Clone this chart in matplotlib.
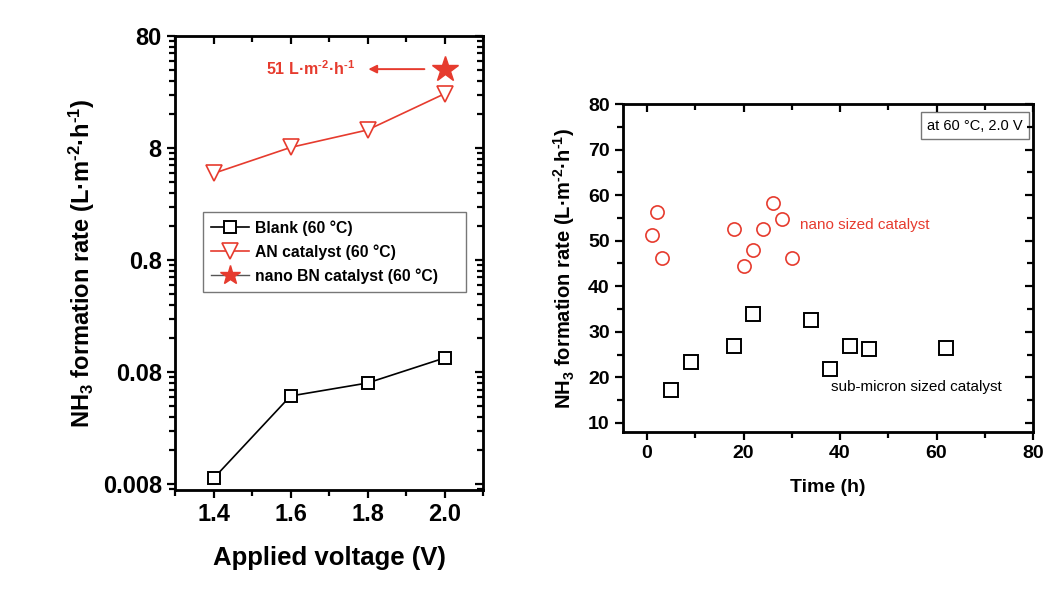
import matplotlib
matplotlib.use("Agg")
import matplotlib.pyplot as plt
from matplotlib import font_manager
from matplotlib.lines import Line2D
from matplotlib.ticker import FixedLocator, MultipleLocator, NullFormatter

names = {f.name for f in font_manager.fontManager.ttflist}
FAM = "Liberation Sans Narrow" if "Liberation Sans Narrow" in names else "Liberation Sans"
plt.rcParams['font.family'] = [FAM, 'DejaVu Sans']
plt.rcParams['font.weight'] = 'bold'
plt.rcParams['axes.labelweight'] = 'bold'
plt.rcParams['mathtext.fontset'] = 'custom'
plt.rcParams['mathtext.rm'] = FAM
plt.rcParams['mathtext.bf'] = FAM + ':bold'
plt.rcParams['mathtext.default'] = 'bf'

RED = '#e63b2e'
HY = '\u2010'

# ---------------- data: left panel ----------------
voltage = [1.4, 1.6, 1.8, 2.0]
blank_rate = [0.009, 0.049, 0.064, 0.107]
an_rate = [4.75, 8.1, 11.6, 24.4]
bn_voltage = [2.0]
bn_rate = [40.5]
left_yticks = [0.008, 0.08, 0.8, 8, 80]
left_yticklabels = ['0.008', '0.08', '0.8', '8', '80']
left_xticks = [1.4, 1.6, 1.8, 2.0]

# ---------------- data: right panel ----------------
nano_time = [1, 2, 3, 18, 20, 22, 24, 26, 28, 30]
nano_rate = [51.2, 56.4, 46.2, 52.5, 44.4, 48.0, 52.6, 58.3, 54.8, 46.1]
sub_time = [5, 9, 18, 22, 34, 38, 42, 46, 62]
sub_rate = [17.3, 23.3, 26.9, 34.0, 32.5, 21.9, 26.8, 26.3, 26.5]
right_xticks = [0, 20, 40, 60, 80]
right_yticks = [10, 20, 30, 40, 50, 60, 70, 80]

unit = r'(L·m$^{' + HY + r'2}$·h$^{' + HY + r'1}$)'
ylab = r'NH$_3$ formation rate ' + unit

fig = plt.figure(figsize=(10.57, 5.98), dpi=100)

def style_ticks(ax, twin_x, twin_y):
    ax.tick_params(which='both', direction='out', width=1.6, top=False, right=False)
    ax.tick_params(which='major', length=6)
    ax.tick_params(which='minor', length=4)
    for t in (twin_x, twin_y):
        t.tick_params(which='both', direction='in', width=1.6)
        t.tick_params(which='major', length=6)
        t.tick_params(which='minor', length=4)
    for s in ax.spines.values():
        s.set_linewidth(2)

# ================= LEFT =================
ax = fig.add_axes([175/1057, (598-490)/598, 308/1057, 454/598])
ax.plot(voltage, blank_rate, '-', color='black', lw=1.2, marker='s', ms=9,
        mfc='white', mec='black', mew=1.4, zorder=3)
ax.plot(voltage, an_rate, '-', color=RED, lw=1.2, marker='v', ms=12,
        mfc='white', mec=RED, mew=1.2, zorder=3)
ax.plot(bn_voltage, bn_rate, linestyle='none', marker='*', ms=19, color=RED, zorder=4)
ax.set_yscale('log')
ax.set_xlim(1.3, 2.1)
ax.set_ylim(0.0071, 80)
ax.set_xticks(left_xticks)
ax.set_xticklabels([f"{v:.1f}" for v in left_xticks])
ax.xaxis.set_minor_locator(MultipleLocator(0.1))
ax.yaxis.set_major_locator(FixedLocator(left_yticks))
ax.set_yticklabels(left_yticklabels)
minors = [8 * k * 10.0**n for n in range(-4, 1) for k in range(2, 10) if 0.0071 < 8 * k * 10.0**n < 80]
ax.yaxis.set_minor_locator(FixedLocator(minors))
ax.yaxis.set_minor_formatter(NullFormatter())
ax.tick_params(labelsize=17)

tx = ax.twiny(); tx.set_xlim(ax.get_xlim()); tx.set_xticks(left_xticks)
tx.xaxis.set_minor_locator(MultipleLocator(0.1)); tx.set_xticklabels([])
ty = ax.twinx(); ty.set_yscale('log'); ty.set_ylim(ax.get_ylim())
ty.yaxis.set_major_locator(FixedLocator(left_yticks))
ty.yaxis.set_minor_locator(FixedLocator(minors))
ty.yaxis.set_major_formatter(NullFormatter()); ty.yaxis.set_minor_formatter(NullFormatter())
style_ticks(ax, tx, ty)

ax.set_xlabel('Applied voltage (V)', fontsize=18.5, labelpad=14)
ax.set_ylabel(ylab, fontsize=17, labelpad=4)

ax.annotate('', xy=(1.795, bn_rate[0]), xytext=(1.955, bn_rate[0]),
            arrowprops=dict(arrowstyle='-|>', color=RED, lw=1.4, mutation_scale=12))
ax.text(1.768, bn_rate[0], r'51 L·m$^{' + HY + r'2}$·h$^{' + HY + r'1}$', color=RED,
        fontsize=11.5, ha='right', va='center')

h_blank = Line2D([], [], color='black', lw=1.2, marker='s', ms=9, mfc='white', mec='black', mew=1.4)
h_an = Line2D([], [], color=RED, lw=1.2, marker='v', ms=12, mfc='white', mec=RED, mew=1.2)
h_bn = Line2D([], [], color='#555555', lw=1.0, marker='*', ms=15, mfc=RED, mec=RED)
leg = ax.legend([h_blank, h_an, h_bn],
                ['Blank (60 °C)', 'AN catalyst (60 °C)', 'nano BN catalyst (60 °C)'],
                loc='upper left', bbox_to_anchor=(0.091, 0.612, 0.854, 0.0),
                mode='expand', fontsize=11.3,
                frameon=True, fancybox=False, edgecolor='#777777', framealpha=1,
                handlelength=2.4, borderpad=0.5, labelspacing=0.55, handletextpad=0.4,
                borderaxespad=0)
leg.get_frame().set_linewidth(1.0)

# ================= RIGHT =================
bx = fig.add_axes([623/1057, (598-432)/598, 410/1057, 328/598])
bx.plot(nano_time, nano_rate, linestyle='none', marker='o', ms=9.5, mfc='none',
        mec=RED, mew=1.2)
bx.plot(sub_time, sub_rate, linestyle='none', marker='s', ms=10.5, mfc='none',
        mec='black', mew=1.4)
bx.set_xlim(-5, 80)
bx.set_ylim(8, 80)
bx.set_xticks(right_xticks)
bx.set_yticks(right_yticks)
bx.xaxis.set_minor_locator(MultipleLocator(10))
bx.yaxis.set_minor_locator(MultipleLocator(5))
bx.tick_params(labelsize=14)
tx2 = bx.twiny(); tx2.set_xlim(bx.get_xlim()); tx2.set_xticks(right_xticks)
tx2.xaxis.set_minor_locator(MultipleLocator(10)); tx2.set_xticklabels([])
ty2 = bx.twinx(); ty2.set_ylim(bx.get_ylim()); ty2.set_yticks(right_yticks)
ty2.yaxis.set_minor_locator(MultipleLocator(5)); ty2.set_yticklabels([])
style_ticks(bx, tx2, ty2)

bx.set_xlabel('Time (h)', fontsize=14, labelpad=12)
bx.set_ylabel(ylab, fontsize=14.5, labelpad=8)

bx.text(31.7, 53.5, 'nano sized catalyst', color=RED, fontsize=11,
        fontweight='normal', ha='left', va='center')
bx.text(38.1, 17.9, 'sub-micron sized catalyst', color='black', fontsize=11,
        fontweight='normal', ha='left', va='center')
bx.text(0.975, 0.955, 'at 60 °C, 2.0 V', transform=bx.transAxes, fontsize=10.5,
        fontweight='normal', ha='right', va='top',
        bbox=dict(boxstyle='square,pad=0.45', fc='white', ec='#777777', lw=1))

fig.savefig('out.png', dpi=100)
